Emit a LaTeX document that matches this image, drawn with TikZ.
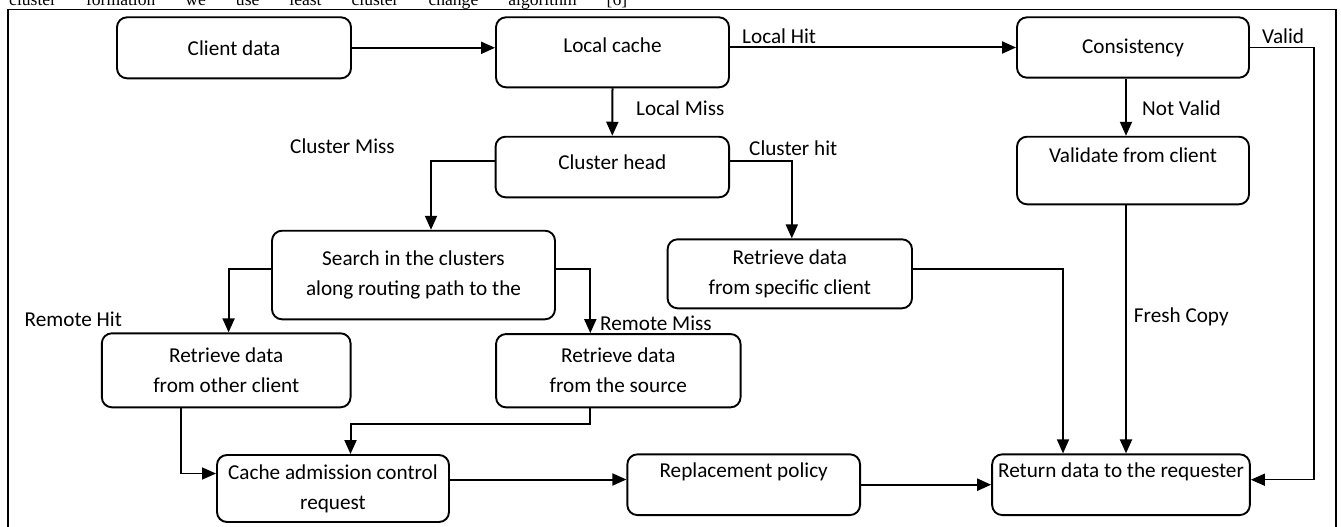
\documentclass[tikz,border=0pt]{standalone}
\usepackage{fontspec}
\setmainfont{Carlito}
\newfontfamily\timesfont{Liberation Serif}
\usetikzlibrary{arrows.meta}

\begin{document}
\begin{tikzpicture}[x=1pt,y=-1pt,
  box/.style={draw,line width=1.9pt,rounded corners=10pt,inner sep=2pt,align=center,font=\fontsize{21.2}{30}\selectfont},
  lbl/.style={anchor=west,inner sep=0pt,text height=14pt,text depth=0pt,font=\fontsize{21.2}{30}\selectfont},
  arr/.style={line width=2pt,-{Triangle[length=14pt,width=12pt]}},
  thin/.style={line width=1.5pt}]
\useasboundingbox (0,0) rectangle (1341,527);
\node[anchor=base west,inner sep=0pt,font=\timesfont\fontsize{17.6}{20}\selectfont] (caption) at (9,5.5) {\makebox[618pt][s]{cluster formation we use least cluster change algorithm [6]}};
\draw[line width=1.2pt] (8,9.5) rectangle (1336,545);

% boxes
\node[box,minimum width=234pt,minimum height=61pt] (cdata) at (234,47.8) {Client data};
\node[box,minimum width=233pt,minimum height=70pt,text depth=14pt] (lcache) at (612.5,52.3) {Local cache};
\node[box,minimum width=232pt,minimum height=60.4pt] (consist) at (1133,47.5) {Consistency};
\node[box,minimum width=233.5pt,minimum height=60.6pt,text depth=9pt] (chead) at (612.3,167) {Cluster head};
\node[box,minimum width=232pt,minimum height=67.6pt] (validate) at (1133,170.5) {Validate from client\\~};
\node[box,minimum width=283pt,minimum height=88.6pt] (search) at (413.5,275) {Search in the clusters\\along routing path to the};
\node[box,minimum width=244.4pt,minimum height=69pt] (rspec) at (789.8,273.8) {Retrieve data\\from specific client};
\node[box,minimum width=248.7pt,minimum height=74pt] (rother) at (226.2,370.3) {Retrieve data\\from other client};
\node[box,minimum width=244.5pt,minimum height=73.3pt] (rsource) at (618.3,370.7) {Retrieve data\\from the source};
\node[box,minimum width=232pt,minimum height=67pt] (cadmit) at (333,488.5) {Cache admission control\\request};
\node[box,minimum width=232.7pt,minimum height=60.7pt] (replace) at (743.7,484.7) {Replacement policy\\~};
\node[box,minimum width=257.7pt,minimum height=60.7pt] (retdata) at (1121,484.7) {Return data to the requester\\~};

% connectors
\draw[arr] (cdata.east) -- (cdata.east -| lcache.west);
\draw[arr] (consist.west -| lcache.east) -- (consist.west);
\draw[arr] (lcache.south) -- (chead.north);
\draw[arr] ([xshift=-7pt]consist.south) -- ([xshift=-7pt]validate.north);
\draw[arr,thin] (consist.east) -- ++(64,0) |- ([yshift=5pt]retdata.east);
\draw[arr] ([yshift=6pt]chead.west) -| ([xshift=17.5pt]search.north);
\draw[arr] ([yshift=6pt]chead.east) -| ([xshift=2pt]rspec.north);
\draw[arr] ([yshift=6pt]search.west) -| ([xshift=2.4pt]rother.north);
\draw[arr] ([yshift=6pt]search.east) -| ([xshift=-28pt]rsource.north);
\draw[arr,thin] ([yshift=5pt]rspec.east) -| ([xshift=-58pt]retdata.north);
\draw[arr] ([xshift=-7pt]validate.south) -- ([xshift=-7pt]validate.south |- retdata.north);
\draw[arr,thin] ([xshift=-45.4pt]rother.south) |- ([yshift=15pt]cadmit.west);
\draw[arr] ([xshift=-28pt]rsource.south) -- ++(0,15.4) -| ([xshift=17.5pt]cadmit.north);
\draw[arr] ([yshift=9pt]cadmit.east) -- ([yshift=9pt]cadmit.east -| replace.west);
\draw[arr] (replace.east) -- (retdata.west);

% labels
\node[lbl] (localhit) at (742,36.7) {Local Hit};
\node[lbl] (valid) at (1262,36.7) {Valid};
\node[lbl] (localmiss) at (636,108) {Local Miss};
\node[lbl] (notvalid) at (1142,108) {Not Valid};
\node[lbl] (clustermiss) at (290,146) {Cluster Miss};
\node[lbl] (clusterhit) at (749,148.3) {Cluster hit};
\node[lbl] (remotehit) at (24.5,319.3) {Remote Hit};
\node[lbl] (remotemiss) at (600,323.3) {Remote Miss};
\node[lbl] (freshcopy) at (1133.7,315) {Fresh Copy};
\end{tikzpicture}
\end{document}
